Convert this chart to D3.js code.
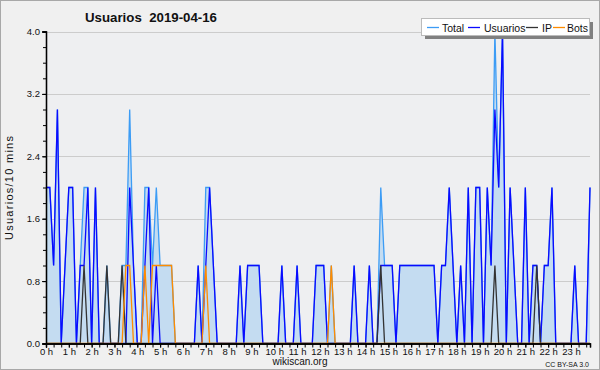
<!DOCTYPE html>
<html><head><meta charset="utf-8">
<script src="https://cdn.jsdelivr.net/npm/d3@7"></script>
<style>
html,body{margin:0;padding:0;background:#f0f0f0;}
svg{display:block;}
text{font-family:"Liberation Sans",Arial,sans-serif;fill:#111;}
</style></head>
<body>
<svg id="c" width="600" height="370"></svg>
<script>
// 10-minute slots, 0..143
const slots = d3.range(144);
const hourLabels = d3.range(24).map(h => h + " h");
const yTicks = [0, 0.8, 1.6, 2.4, 3.2, 4.0];
const seriesNames = ["Total", "Usuarios", "IP", "Bots"];

const total = [2,2,1,3,0,1,2,2,0,1,2,2,0,2,0,0,1,0,0,0,1,1,3,1,0,0,2,2,1,2,1,1,1,1,0,0,0,0,0,0,1,0,2,2,1,0,0,0,0,0,0,1,0,1,1,1,1,0,0,0,0,0,1,0,0,0,1,0,0,0,0,1,1,1,0,1,0,0,0,0,0,1,0,0,0,1,0,0,2,1,1,1,0,1,1,1,1,1,1,1,1,1,1,0,1,1,2,1,0,1,0,2,0,2,2,0,2,1,4,2,4,0,2,1,0,0,2,0,1,1,0,1,1,2,0,0,0,0,0,1,0,0,0,2];
const usuarios = [2,2,1,3,0,1,2,2,0,1,1,2,0,2,0,0,0,0,0,0,0,0,2,1,0,0,1,2,0,1,0,0,0,0,0,0,0,0,0,0,1,0,1,2,1,0,0,0,0,0,0,1,0,1,1,1,1,0,0,0,0,0,1,0,0,0,1,0,0,0,0,1,1,1,0,0,0,0,0,0,0,1,0,0,0,1,0,0,1,1,1,1,0,1,1,1,1,1,1,1,1,1,1,0,1,1,2,1,0,1,0,2,0,2,2,0,2,1,3,2,4,0,2,1,0,0,2,0,1,1,0,1,1,2,0,0,0,0,0,1,0,0,0,2];
const ip = [0,0,0,0,0,0,0,0,0,0,1,0,0,0,0,0,1,0,0,0,1,0,0,0,0,0,0,0,0,0,0,0,0,0,0,0,0,0,0,0,0,0,0,0,0,0,0,0,0,0,0,0,0,0,0,0,0,0,0,0,0,0,0,0,0,0,0,0,0,0,0,0,0,0,0,0,0,0,0,0,0,0,0,0,0,0,0,0,1,0,0,0,0,0,0,0,0,0,0,0,0,0,0,0,0,0,0,0,0,0,0,0,0,0,0,0,0,0,1,0,0,0,0,0,0,0,0,0,0,1,0,0,0,0,0,0,0,0,0,0,0,0,0,0];
const bots = [0,0,0,0,0,0,0,0,0,0,0,0,0,0,0,0,0,0,0,0,0,1,1,0,0,0,1,0,1,1,1,1,1,1,0,0,0,0,0,0,0,0,1,0,0,0,0,0,0,0,0,0,0,0,0,0,0,0,0,0,0,0,0,0,0,0,0,0,0,0,0,0,0,0,0,1,0,0,0,0,0,0,0,0,0,0,0,0,0,0,0,0,0,0,0,0,0,0,0,0,0,0,0,0,0,0,0,0,0,0,0,0,0,0,0,0,0,0,0,0,0,0,0,0,0,0,0,0,0,0,0,0,0,0,0,0,0,0,0,0,0,0,0,0];

const colors = {Total:"#3c9cf5", Usuarios:"#0a0aff", IP:"#333333", Bots:"#ff8c00"};

const svg = d3.select("#c");
svg.append("rect").attr("x",0.5).attr("y",0.5).attr("width",599).attr("height",369)
  .attr("fill","#f0f0f0").attr("stroke","#a8a8a8");
svg.append("rect").attr("x",46).attr("y",31).attr("width",544).attr("height",313).attr("fill","#eeeff1");

const x = d3.scaleLinear().domain([0,143]).range([46,590]);
const y = d3.scaleLinear().domain([0,4]).range([343.5,31.5]);

// gridlines
svg.append("g").selectAll("line").data(yTicks.filter(d=>d>0)).join("line")
  .attr("x1",46).attr("x2",590).attr("y1",d=>Math.round(y(d))+0.5).attr("y2",d=>Math.round(y(d))+0.5)
  .attr("stroke","#cccccc").attr("stroke-width",1);

// area
svg.append("path").datum(total)
  .attr("d", d3.area().x((d,i)=>x(i)).y0(y(0)).y1(d=>y(d)))
  .attr("fill","#c4dcf1");

const line = d3.line().x((d,i)=>x(i)).y(d=>y(d));
[["Total",total],["Usuarios",usuarios],["IP",ip],["Bots",bots]].forEach(([n,arr])=>{
  svg.append("path").datum(arr).attr("d",line).attr("fill","none")
    .attr("stroke",colors[n]).attr("stroke-width",1.3).attr("stroke-linejoin","miter");
});

// axes
const yAxis = d3.axisLeft(y).tickValues(yTicks).tickFormat(d3.format(".1f")).tickSize(4).tickPadding(2);
svg.append("g").attr("transform","translate(46,0)").call(yAxis);
const yMinor = d3.axisLeft(y).tickValues(d3.range(0,4.01,0.2)).tickFormat("").tickSize(3);
svg.append("g").attr("transform","translate(46,0)").call(yMinor);

const xMinor = d3.axisBottom(x).tickValues(d3.range(0,144,2)).tickFormat("").tickSize(4);
svg.append("g").attr("transform","translate(0,343.5)").call(xMinor);
const xAxis = d3.axisBottom(x).tickValues(d3.range(0,144,6)).tickFormat((d)=>hourLabels[d/6]).tickSize(4).tickPadding(1);
svg.append("g").attr("transform","translate(0,343.5)").call(xAxis);

svg.selectAll(".domain").attr("stroke","#000").attr("stroke-width",1.3);
svg.selectAll(".tick line").attr("stroke","#000");
svg.selectAll(".tick text").attr("font-family","Liberation Sans, Arial, sans-serif").attr("font-size",9.5).attr("fill","#222");

// title
svg.append("text").attr("x",85).attr("y",22).attr("font-size",13).attr("font-weight","bold")
  .attr("textLength",132).attr("lengthAdjust","spacingAndGlyphs").attr("xml:space","preserve")
  .style("white-space","pre").text("Usuarios  2019-04-16");

// y label
svg.append("text").attr("transform","translate(13,188) rotate(-90)").attr("text-anchor","middle")
  .attr("font-size",11).attr("textLength",104).attr("lengthAdjust","spacing").text("Usuarios/10 mins");

svg.append("text").attr("x",300).attr("y",365).attr("text-anchor","middle").attr("font-size",10).attr("fill","#333").text("wikiscan.org");
svg.append("text").attr("x",589).attr("y",367).attr("text-anchor","end").attr("font-size",7).attr("fill","#444").text("CC BY-SA 3.0");

// legend
const lg = svg.append("g");
lg.append("rect").attr("x",425).attr("y",22).attr("width",168).attr("height",17).attr("fill","#808080");
lg.append("rect").attr("x",421.5).attr("y",18.5).attr("width",168).attr("height",17).attr("fill","#fff").attr("stroke","#bbb");
const legendPos = [{n:"Total",lx:427,tx:442},{n:"Usuarios",lx:468,tx:484},{n:"IP",lx:526,tx:542},{n:"Bots",lx:553,tx:567}];
legendPos.forEach((p,i)=>{
  lg.append("line").attr("x1",p.lx).attr("x2",p.lx+12).attr("y1",27.5).attr("y2",27.5).attr("stroke",colors[seriesNames[i]]).attr("stroke-width",1.3);
  lg.append("text").attr("x",p.tx).attr("y",31.5).attr("font-size",10.5).attr("fill","#222").text(seriesNames[i]);
});
</script>
</body></html>
